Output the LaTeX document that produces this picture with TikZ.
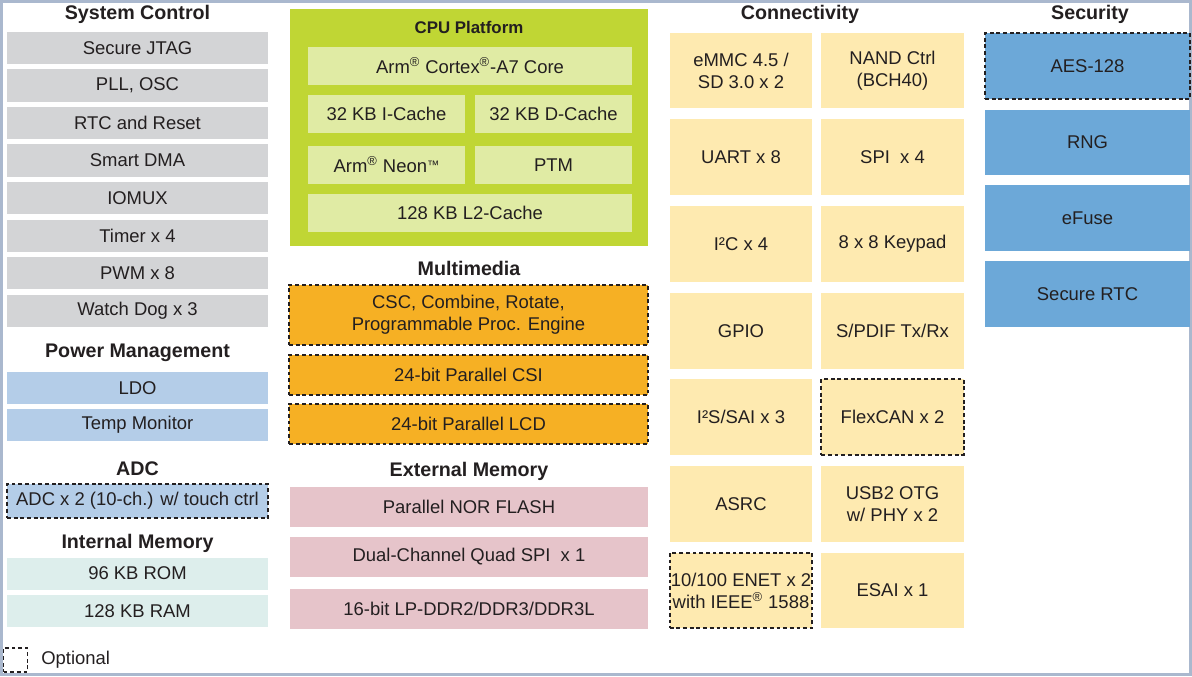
\documentclass[tikz,border=0pt]{standalone}
\usepackage{fontspec}
\setmainfont{Liberation Sans}
\usetikzlibrary{positioning}

\definecolor{framecol}{RGB}{170,184,206}
\definecolor{sysgray}{RGB}{211,212,214}
\definecolor{pwrblue}{RGB}{180,205,232}
\definecolor{memteal}{RGB}{221,238,236}
\definecolor{cpugreen}{RGB}{192,214,52}
\definecolor{cpuinner}{RGB}{224,235,164}
\definecolor{mmorange}{RGB}{246,176,36}
\definecolor{extpink}{RGB}{230,196,202}
\definecolor{conyellow}{RGB}{254,234,176}
\definecolor{secblue}{RGB}{108,168,216}
\definecolor{txtcol}{RGB}{35,31,32}

\newcommand{\regmark}{\textsuperscript{\textregistered}}
\newcommand{\tmmark}{\raisebox{0.3ex}{\fontsize{7}{7}\selectfont\texttrademark}}

\begin{document}
\begin{tikzpicture}[
	x=0.02cm,
	y=-0.02cm,
	blk/.style={inner sep=0pt, align=center, text=txtcol, font=\fontsize{10.5}{12.6}\selectfont},
	grouptitle/.style={inner sep=0pt, text=txtcol, font=\fontsize{11.2}{13}\selectfont\bfseries},
	optional/.style={draw=txtcol, dash pattern=on 2.2pt off 1.6pt, line width=0.9pt},
	sysbox/.style={blk, fill=sysgray, minimum width=5.22cm, minimum height=0.65cm},
	pwrbox/.style={blk, fill=pwrblue, minimum width=5.22cm, minimum height=0.65cm},
	membox/.style={blk, fill=memteal, minimum width=5.22cm, minimum height=0.64cm},
	cpuwide/.style={blk, fill=cpuinner, minimum width=6.48cm, minimum height=0.76cm},
	cpuhalf/.style={blk, fill=cpuinner, minimum width=3.14cm, minimum height=0.76cm},
	mmbox/.style={blk, fill=mmorange, optional, minimum width=7.18cm, minimum height=0.8cm},
	extbox/.style={blk, fill=extpink, minimum width=7.16cm, minimum height=0.8cm},
	conbox/.style={blk, fill=conyellow, minimum width=2.85cm, minimum height=1.51cm},
	secbox/.style={blk, fill=secblue, minimum width=4.1cm, minimum height=1.32cm}
	]
	
	\useasboundingbox (0,0) rectangle (1192,676);
	\draw[framecol, line width=1.7pt] (1.5,1.5) rectangle (1190.5,674.5);
	
	% ==================================================
	% System control, power, ADC, internal memory
	% ==================================================
	\node[grouptitle] (sysT) at (137.5,14) {System Control};
	\node[sysbox] (jtag)  at (137.5,48)  {Secure JTAG};
	\node[sysbox] (pll)   at (137.5,85.5)  {PLL, OSC};
	\node[sysbox] (rtc)   at (137.5,123) {RTC and Reset};
	\node[sysbox] (sdma)  at (137.5,160.5) {Smart DMA};
	\node[sysbox] (iomux) at (137.5,198) {IOMUX};
	\node[sysbox] (timer) at (137.5,236) {Timer x 4};
	\node[sysbox] (pwm)   at (137.5,273) {PWM x 8};
	\node[sysbox] (wdog)  at (137.5,311) {Watch Dog x 3};
	
	\node[grouptitle] (pwrT) at (137.5,353) {Power Management};
	\node[pwrbox] (ldo)  at (137.5,388) {LDO};
	\node[pwrbox] (tmon) at (137.5,425) {Temp Monitor};
	
	\node[grouptitle] (adcT) at (137.5,469) {ADC};
	\node[pwrbox, optional, minimum height=0.68cm] (adc) at (137.5,501) {ADC x 2 (10-ch.) w/ touch ctrl};
	
	\node[grouptitle] (memT) at (137.5,543) {Internal Memory};
	\node[membox] (rom) at (137.5,573.5) {96 KB ROM};
	\node[membox] (ram) at (137.5,611)   {128 KB RAM};
	
	% legend
	\node[optional, inner sep=0pt, minimum size=0.48cm] (legend) at (15.5,660) {};
	\node[blk, anchor=west] (legendT) at (41,660) {Optional};
	
	% ==================================================
	% CPU platform
	% ==================================================
	\node[fill=cpugreen, inner sep=0pt, minimum width=7.16cm, minimum height=4.74cm] (cpu) at (469,127.5) {};
	\node[grouptitle, font=\fontsize{9.6}{11}\selectfont\bfseries] (cpuT) at (469,27) {CPU Platform};
	\node[cpuwide] (core)   at (470,66)    {Arm\regmark{} Cortex\regmark-A7 Core};
	\node[cpuhalf] (icache) at (386.5,114) {32 KB I-Cache};
	\node[cpuhalf] (dcache) at (553.5,114) {32 KB D-Cache};
	\node[cpuhalf] (neon)   at (386.5,165) {Arm\regmark{} Neon\tmmark};
	\node[cpuhalf] (ptm)    at (553.5,165) {PTM};
	\node[cpuwide] (ltwo)   at (470,213)   {128 KB L2-Cache};
	
	% ==================================================
	% Multimedia and external memory
	% ==================================================
	\node[grouptitle] (mmT) at (469,268) {Multimedia};
	\node[mmbox, minimum height=1.2cm] (csc) at (468.5,315) {CSC, Combine, Rotate,\\Programmable Proc. Engine};
	\node[mmbox] (csi) at (468.5,375) {24-bit Parallel CSI};
	\node[mmbox] (lcd) at (468.5,424) {24-bit Parallel LCD};
	
	\node[grouptitle] (extT) at (469,471) {External Memory};
	\node[extbox] (nor)  at (469,507)   {Parallel NOR FLASH};
	\node[extbox] (qspi) at (469,556.5) {Dual-Channel Quad SPI\ \ x 1};
	\node[extbox] (ddr)  at (469,608.5) {16-bit LP-DDR2/DDR3/DDR3L};
	
	% ==================================================
	% Connectivity
	% ==================================================
	\node[grouptitle] (conT) at (800,14) {Connectivity};
	\node[conbox] (emmc)    at (741,70.5)  {eMMC 4.5 /\\SD 3.0 x 2};
	\node[conbox] (nand)    at (892.5,70.5) {NAND Ctrl\\(BCH40)};
	\node[conbox] (uart)    at (741,157)   {UART x 8};
	\node[conbox] (spi)     at (892.5,157) {SPI\ \ x 4};
	\node[conbox] (itwoc)   at (741,244)   {I²C x 4};
	\node[conbox] (keypad)  at (892.5,244) {8 x 8 Keypad};
	\node[conbox] (gpio)    at (741,331)   {GPIO};
	\node[conbox] (spdif)   at (892.5,331) {S/PDIF Tx/Rx};
	\node[conbox] (sai)     at (741,417)   {I²S/SAI x 3};
	\node[conbox, optional] (flexcan) at (892.5,417) {FlexCAN x 2};
	\node[conbox] (asrc)    at (741,504)   {ASRC};
	\node[conbox] (usb)     at (892.5,504) {USB2 OTG\\w/ PHY x 2};
	\node[conbox, optional] (enet) at (741,590.5) {10/100 ENET x 2\\with IEEE\regmark{} 1588};
	\node[conbox] (esai)    at (892.5,590.5) {ESAI x 1};
	
	% ==================================================
	% Security
	% ==================================================
	\node[grouptitle] (secT) at (1090,14) {Security};
	\node[secbox, optional] (aes) at (1087.5,66) {AES-128};
	\node[secbox] (rng)   at (1087.5,142.5) {RNG};
	\node[secbox] (efuse) at (1087.5,218)   {eFuse};
	\node[secbox] (srtc)  at (1087.5,294)   {Secure RTC};
	
\end{tikzpicture}
\end{document}
